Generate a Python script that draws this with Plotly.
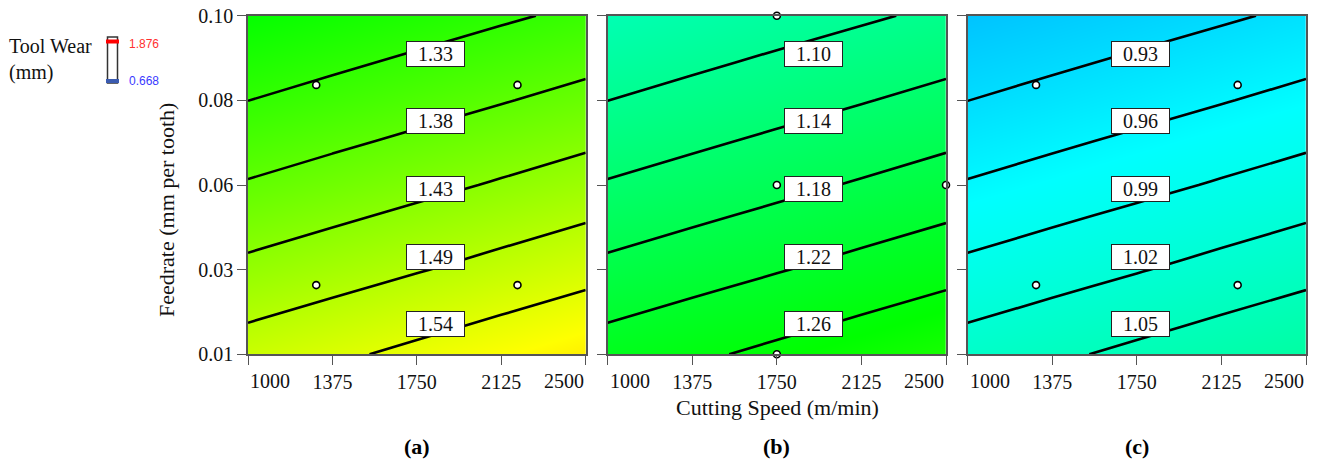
import plotly.graph_objects as go

# ---------------- data ----------------
speed = [1000, 1375, 1750, 2125, 2500]            # cutting speed grid (m/min)
feed = [0.01, 0.0325, 0.055, 0.0775, 0.10]        # feedrate grid (mm per tooth)

x_tick_vals = [1000, 1375, 1750, 2125, 2500]
x_tick_labels = ["1000", "1375", "1750", "2125", "2500"]
y_tick_vals = [0.01, 0.0325, 0.055, 0.0775, 0.10]
y_tick_labels = ["0.01", "0.03", "0.06", "0.08", "0.10"]

# tool wear (mm) estimated on the grid, rows = feed, cols = speed
wear_a = [
    [1.5115, 1.5312, 1.5512, 1.5716, 1.5923],
    [1.4471, 1.4657, 1.4846, 1.5038, 1.5234],
    [1.3865, 1.4040, 1.4218, 1.4399, 1.4583],
    [1.3297, 1.3460, 1.3627, 1.3797, 1.3970],
    [1.2767, 1.2919, 1.3075, 1.3234, 1.3395],
]
wear_b = [
    [1.2383, 1.2533, 1.2686, 1.2841, 1.2998],
    [1.1892, 1.2034, 1.2178, 1.2324, 1.2473],
    [1.1431, 1.1563, 1.1699, 1.1837, 1.1977],
    [1.0998, 1.1122, 1.1249, 1.1379, 1.1511],
    [1.0594, 1.0710, 1.0829, 1.0949, 1.1073],
]
wear_c = [
    [1.0337, 1.0450, 1.0564, 1.0681, 1.0799],
    [0.9969, 1.0075, 1.0183, 1.0293, 1.0405],
    [0.9623, 0.9723, 0.9824, 0.9928, 1.0033],
    [0.9298, 0.9392, 0.9487, 0.9584, 0.9683],
    [0.8996, 0.9083, 0.9171, 0.9262, 0.9355],
]

levels_a = [1.33, 1.38, 1.43, 1.49, 1.54]
levels_b = [1.10, 1.14, 1.18, 1.22, 1.26]
levels_c = [0.93, 0.96, 0.99, 1.02, 1.05]

# design points
pts_ac_speed = [1303, 2197, 1303, 2197]
pts_ac_feed = [0.0816, 0.0816, 0.0284, 0.0284]
pts_b_speed = [1750, 1750, 2500, 1750]
pts_b_feed = [0.10, 0.055, 0.055, 0.01]

wear_min, wear_max = 0.668, 1.876
panel_names = ["(a)", "(b)", "(c)"]

# ---------------- layout constants ----------------
W, H = 1322, 463
SERIF = "Liberation Serif"
def px(p):
    return p / W
def py(p):
    return 1 - p / H

x_domains = [[px(248), px(585.7)], [px(607.7), px(946)], [px(967.7), px(1306)]]
y_domain = [py(354.3), py(15.7)]
label_speed = [1835, 1914, 1765]
label_fracs = [0.886, 0.688, 0.488, 0.286, 0.089]
TICK_Y = py(381)   # baseline row of the x tick labels

# inner ticks labelled by the axis, edge ticks labelled by aligned annotations
x_tick_text = [""] + x_tick_labels[1:-1] + [""]

rainbow = [[0, "#0000ff"], [0.25, "#00ffff"], [0.5, "#00ff00"], [0.75, "#ffff00"], [1, "#ff0000"]]

fig = go.Figure()
panels = [(wear_a, levels_a), (wear_b, levels_b), (wear_c, levels_c)]
for i, (z, lv) in enumerate(panels):
    sfx = "" if i == 0 else str(i + 1)
    step = (lv[-1] - lv[0]) / (len(lv) - 1)
    fig.add_trace(go.Contour(
        x=speed, y=feed, z=z,
        xaxis="x" + sfx, yaxis="y" + sfx,
        colorscale=rainbow, zmin=wear_min, zmax=wear_max,
        showscale=False,
        contours=dict(coloring="heatmap", start=lv[0], end=lv[-1] + 1e-6, size=step,
                      showlabels=False),
        line=dict(color="black", width=2.6, smoothing=0.6),
        hoverinfo="skip",
    ))
    if i == 1:
        xs, ys = pts_b_speed, pts_b_feed
    else:
        xs, ys = pts_ac_speed, pts_ac_feed
    fig.add_trace(go.Scatter(
        x=xs, y=ys, mode="markers", xaxis="x" + sfx, yaxis="y" + sfx,
        marker=dict(size=7, color="white", line=dict(color="black", width=1.6)),
        cliponaxis=False, showlegend=False, hoverinfo="skip",
    ))

annotations = []
TICKFONT = dict(family=SERIF, size=20, color="#111111")
axis_common = dict(
    showline=True, mirror=True, linecolor="#555555", linewidth=1.5,
    ticks="outside", ticklen=9, tickcolor="#555555", tickwidth=1,
    showgrid=False, zeroline=False, automargin=False,
    tickfont=TICKFONT,
)
layout = dict(
    width=W, height=H, margin=dict(l=0, r=0, t=0, b=0, autoexpand=False),
    paper_bgcolor="white", plot_bgcolor="white", showlegend=False,
)
for i in range(3):
    sfx = "" if i == 0 else str(i + 1)
    layout["xaxis" + sfx] = dict(
        axis_common, domain=x_domains[i], range=[1000, 2500], anchor="y" + sfx,
        tickvals=x_tick_vals, ticktext=x_tick_text,
    )
    layout["yaxis" + sfx] = dict(
        axis_common, domain=y_domain, range=[0.01, 0.10], anchor="x" + sfx,
        tickvals=y_tick_vals, ticktext=y_tick_labels, showticklabels=(i == 0),
    )
    # edge tick labels, kept inside the panel width
    annotations.append(dict(
        x=x_tick_vals[0], y=TICK_Y, xref="x" + sfx, yref="paper", text=x_tick_labels[0],
        showarrow=False, font=TICKFONT, xanchor="left", yanchor="middle",
    ))
    annotations.append(dict(
        x=x_tick_vals[-1], y=TICK_Y, xref="x" + sfx, yref="paper", text=x_tick_labels[-1],
        showarrow=False, font=TICKFONT, xanchor="right", yanchor="middle",
    ))
    lv = panels[i][1]
    for k, val in enumerate(lv):
        annotations.append(dict(
            x=label_speed[i], y=label_fracs[k], xref="x" + sfx, yref="y" + sfx + " domain",
            text=f"{val:.2f}", showarrow=False,
            font=dict(family=SERIF, size=20, color="#111111"),
            bgcolor="white", bordercolor="#222222", borderwidth=1, borderpad=1,
            width=55, height=22, xanchor="center", yanchor="middle",
        ))
    annotations.append(dict(
        x=sum(x_domains[i]) / 2, y=py(446), xref="paper", yref="paper",
        text="<b>" + panel_names[i] + "</b>", showarrow=False,
        font=dict(family=SERIF, size=22, color="black"), xanchor="center", yanchor="middle",
    ))

annotations += [
    dict(x=px(166), y=py(210), xref="paper", yref="paper", text="Feedrate (mm per tooth)",
         textangle=-90, showarrow=False, font=dict(family=SERIF, size=22, color="#111111"),
         xanchor="center", yanchor="middle"),
    dict(x=px(777), y=py(407), xref="paper", yref="paper", text="Cutting Speed (m/min)",
         showarrow=False, font=dict(family=SERIF, size=22, color="#111111"),
         xanchor="center", yanchor="middle"),
    dict(x=px(7), y=py(46), xref="paper", yref="paper", text="Tool Wear",
         showarrow=False, font=dict(family=SERIF, size=20, color="#111111"),
         xanchor="left", yanchor="middle"),
    dict(x=px(7), y=py(72), xref="paper", yref="paper", text="(mm)",
         showarrow=False, font=dict(family=SERIF, size=20, color="#111111"),
         xanchor="left", yanchor="middle"),
    dict(x=px(127), y=py(44), xref="paper", yref="paper", text=f"{wear_max:.3f}",
         showarrow=False, font=dict(family="Liberation Sans", size=12, color="#ff3030"),
         xanchor="left", yanchor="middle"),
    dict(x=px(127), y=py(81), xref="paper", yref="paper", text=f"{wear_min:.3f}",
         showarrow=False, font=dict(family="Liberation Sans", size=12, color="#3a3aff"),
         xanchor="left", yanchor="middle"),
]
layout["annotations"] = annotations
layout["shapes"] = [
    dict(type="rect", xref="paper", yref="paper", x0=px(107.5), x1=px(117.5), y0=py(83), y1=py(37),
         line=dict(color="#333333", width=1.5), fillcolor="white"),
    dict(type="line", xref="paper", yref="paper", x0=px(106), x1=px(119), y0=py(41.5), y1=py(41.5),
         line=dict(color="#ff0000", width=4)),
    dict(type="line", xref="paper", yref="paper", x0=px(106), x1=px(119), y0=py(81), y1=py(81),
         line=dict(color="#3b5bb0", width=4)),
]
fig.update_layout(**layout)
fig.write_html("out.html")
